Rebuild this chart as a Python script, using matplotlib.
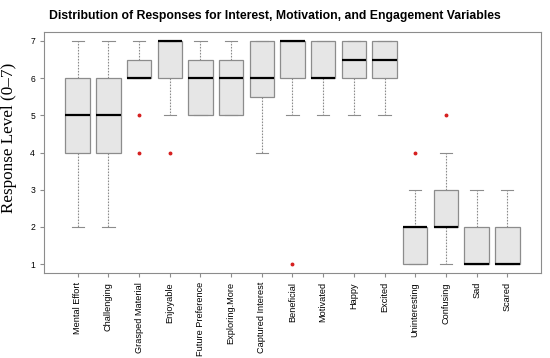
import matplotlib
matplotlib.use('Agg')
import matplotlib.pyplot as plt

plt.rcParams['font.family'] = 'Liberation Sans'

labels = ['Mental Effort', 'Challenging', 'Grasped Material', 'Enjoyable',
          'Future Preference', 'Exploring.More', 'Captured Interest', 'Beneficial',
          'Motivated', 'Happy', 'Excited', 'Uninteresting', 'Confusing', 'Sad', 'Scared']
q1 = [4, 4, 6, 6, 5, 5, 5.5, 6, 6, 6, 6, 1, 2, 1, 1]
med = [5, 5, 6, 7, 6, 6, 6, 7, 6, 6.5, 6.5, 2, 2, 1, 1]
q3 = [6, 6, 6.5, 7, 6.5, 6.5, 7, 7, 7, 7, 7, 2, 3, 2, 2]
lo = [2, 2, 6, 5, 5, 5, 4, 5, 5, 5, 5, 1, 1, 1, 1]
hi = [7, 7, 7, 7, 7, 7, 7, 7, 7, 7, 7, 3, 4, 3, 3]
outliers = [[], [], [5, 4], [4], [], [], [], [1], [], [], [], [4], [5], [], []]

stats = []
for i, lab in enumerate(labels):
    stats.append(dict(label=lab, q1=q1[i], med=med[i], q3=q3[i],
                      whislo=lo[i], whishi=hi[i], fliers=outliers[i]))

fig = plt.figure(figsize=(5.5, 3.58), dpi=100)
ax = fig.add_axes([44 / 550, 1 - 273 / 358, 497 / 550, 241 / 358])

edge = '#8c8c8c'
ax.bxp(stats, positions=range(1, 16), widths=0.8, patch_artist=True,
       boxprops=dict(facecolor='#e6e6e6', edgecolor=edge, linewidth=0.9),
       medianprops=dict(color='black', linewidth=1.6),
       whiskerprops=dict(color=edge, linestyle=(0, (1.5, 1.2)), linewidth=0.8),
       capprops=dict(color=edge, linewidth=0.8),
       flierprops=dict(marker='o', markersize=1.8, markerfacecolor='#d62020',
                       markeredgecolor='#d62020'))

ax.set_xlim(-0.1, 16.1)
ax.set_ylim(0.76, 7.24)
ax.set_yticks(range(1, 8))
ax.set_xticks(range(1, 16))
ax.set_xticklabels(labels, rotation=90, fontsize=6.6)
ax.tick_params(axis='y', labelsize=6.2, length=3, color=edge)
ax.tick_params(axis='x', length=3, color=edge)
for s in ax.spines.values():
    s.set_color(edge)
    s.set_linewidth(0.8)

ax.set_ylabel('Response Level (0–7)', fontfamily='Liberation Serif', fontsize=12.3)
ax.yaxis.set_label_coords(-0.055, 0.56)
fig.suptitle('Distribution of Responses for Interest, Motivation, and Engagement Variables',
             fontsize=8.8, fontweight='bold', y=0.972)

fig.savefig('out.png', dpi=100)
